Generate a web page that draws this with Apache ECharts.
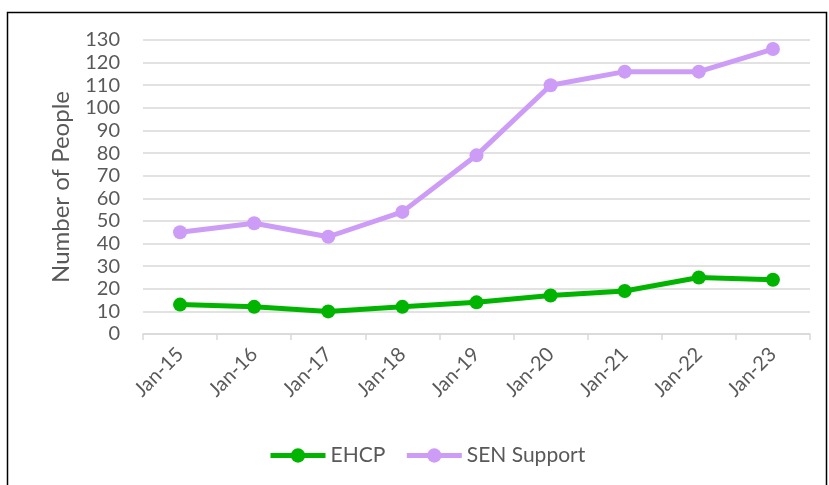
<!DOCTYPE html>
<html>
<head>
<meta charset="utf-8">
<script src="https://cdn.jsdelivr.net/npm/echarts@6/dist/echarts.min.js"></script>
<style>
  html, body { margin: 0; padding: 0; background: #fff; }
  #main { width: 829px; height: 485px; }
</style>
</head>
<body>
<div id="main"></div>
<script>
// 数据
var categories = ['Jan-15', 'Jan-16', 'Jan-17', 'Jan-18', 'Jan-19', 'Jan-20', 'Jan-21', 'Jan-22', 'Jan-23'];
var ehcp = [13, 12, 10, 12, 14, 17, 19, 25, 24];
var senSupport = [45, 49, 43, 54, 79, 110, 116, 116, 126];

var textColor = '#595959';
var fontName = 'Lato';

var myChart = echarts.init(document.getElementById('main'));

var option = {
    animation: false,
    textStyle: { fontFamily: fontName },
    graphic: [{
        type: 'rect',
        shape: { x: 7.5, y: 12.5, width: 819, height: 480 },
        style: { fill: 'none', stroke: '#000', lineWidth: 1.5 },
        silent: true
    }],
    grid: { left: 143, right: 19, top: 40, bottom: 151 },
    legend: {
        top: 445,
        left: 268,
        padding: 0,
        itemWidth: 55,
        itemHeight: 18,
        itemGap: 19,
        lineStyle: { width: 5 },
        textStyle: { color: textColor, fontSize: 21, fontFamily: fontName },
        data: ['EHCP', 'SEN Support']
    },
    xAxis: {
        type: 'category',
        data: categories,
        boundaryGap: true,
        axisLine: { lineStyle: { color: '#d9d9d9', width: 1.5 } },
        axisTick: { show: true, length: 6, lineStyle: { color: '#d9d9d9', width: 1.5 } },
        axisLabel: { rotate: 45, color: textColor, fontSize: 20, margin: 17, fontFamily: fontName }
    },
    yAxis: {
        type: 'value',
        min: 0,
        max: 130,
        interval: 10,
        name: 'Number of People',
        nameLocation: 'middle',
        nameGap: 70,
        nameTextStyle: { color: textColor, fontSize: 24, fontFamily: fontName },
        axisLine: { show: false },
        axisTick: { show: false },
        axisLabel: { color: textColor, fontSize: 20, margin: 23, fontFamily: fontName },
        splitLine: { lineStyle: { color: '#d9d9d9', width: 1.5 } }
    },
    series: [{
        name: 'EHCP',
        type: 'line',
        data: ehcp,
        symbol: 'circle',
        symbolSize: 14,
        itemStyle: { color: '#00b400' },
        lineStyle: { color: '#00b400', width: 5 }
    }, {
        name: 'SEN Support',
        type: 'line',
        data: senSupport,
        symbol: 'circle',
        symbolSize: 14,
        itemStyle: { color: '#cc9cf6' },
        lineStyle: { color: '#cc9cf6', width: 5 }
    }]
};

myChart.setOption(option);
</script>
</body>
</html>
